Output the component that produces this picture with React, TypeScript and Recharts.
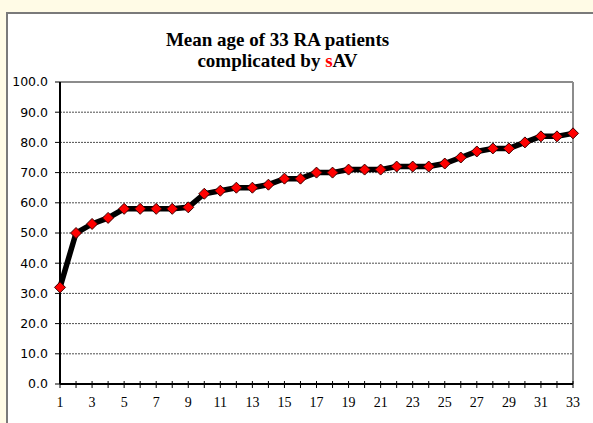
import { LineChart, Line, XAxis, YAxis, CartesianGrid, ReferenceLine } from "recharts"

const patients = [1, 2, 3, 4, 5, 6, 7, 8, 9, 10, 11, 12, 13, 14, 15, 16, 17, 18, 19, 20, 21, 22, 23, 24, 25, 26, 27, 28, 29, 30, 31, 32, 33]
const meanAge = [32, 50, 53, 55, 58, 58, 58, 58, 58.5, 63, 64, 65, 65, 66, 68, 68, 70, 70, 71, 71, 71, 72, 72, 72, 73, 75, 77, 78, 78, 80, 82, 82, 83]
const yTicks = [0, 10, 20, 30, 40, 50, 60, 70, 80, 90, 100]

const data = patients.map((p, i) => ({ patient: p, age: meanAge[i] }))

function XTick(props: any) {
  const { x, y, payload } = props
  return (
    <g>
      <line x1={x} x2={x} y1={y - 3} y2={y + 4} stroke="#000" strokeWidth={1} />
      {payload.value % 2 === 1 && (
        <text x={x} y={y + 23} textAnchor="middle" fontFamily="Liberation Serif" fontSize={14} fill="#000">
          {payload.value}
        </text>
      )}
    </g>
  )
}

function Diamond(props: any) {
  const { cx, cy } = props
  if (cx == null || cy == null) return null
  const r = 5.5
  return (
    <polygon
      points={`${cx},${cy - r} ${cx + r},${cy} ${cx},${cy + r} ${cx - r},${cy}`}
      fill="#ff0000"
      stroke="#3a0000"
      strokeWidth={1}
    />
  )
}

export default function App() {
  return (
    <div style={{ position: "absolute", left: 0, top: 0, width: 593, height: 423, background: "#fffbe6", overflow: "hidden" }}>
      <div
        style={{
          position: "absolute",
          left: 6,
          top: 12,
          width: 600,
          height: 420,
          background: "#fff",
          borderLeft: "2px solid #7a7a7a",
          borderTop: "2px solid #7a7a7a",
        }}
      />
      <div
        style={{
          position: "absolute",
          left: 0,
          width: 555,
          top: 29,
          textAlign: "center",
          fontFamily: "Liberation Serif",
          fontWeight: "bold",
          fontSize: 19,
          lineHeight: "21px",
          color: "#000",
        }}
      >
        <div>Mean age of 33 RA patients</div>
        <div>
          complicated by <span style={{ color: "#ff0000" }}>s</span>AV
        </div>
      </div>
      <div style={{ position: "absolute", left: 0, top: 0 }}>
        <LineChart width={593} height={423} data={data} margin={{ top: 82, right: 20, bottom: 0, left: 0 }}>
          <CartesianGrid vertical={false} stroke="#222" strokeDasharray="2 1" strokeWidth={0.8} />
          <ReferenceLine y={100} stroke="#8c8c8c" strokeWidth={2} />
          <ReferenceLine x={33} stroke="#8c8c8c" strokeWidth={2} />
          <XAxis
            dataKey="patient"
            type="number"
            domain={[1, 33]}
            ticks={patients}
            interval={0}
            height={39}
            tickSize={0}
            tickMargin={0}
            tickLine={false}
            axisLine={{ stroke: "#000", strokeWidth: 2 }}
            tick={<XTick />}
          />
          <YAxis
            domain={[0, 100]}
            ticks={yTicks}
            width={60}
            interval={0}
            tickSize={5}
            tickMargin={7}
            tickFormatter={(v: number) => v.toFixed(1)}
            tick={{ fontFamily: "DejaVu Sans", fontSize: 12.5, fill: "#000" }}
            tickLine={{ stroke: "#000", strokeWidth: 1 }}
            axisLine={{ stroke: "#000", strokeWidth: 2 }}
          />
          <Line
            type="linear"
            dataKey="age"
            stroke="#000"
            strokeWidth={5.5}
            dot={<Diamond />}
            activeDot={false}
            isAnimationActive={false}
          />
        </LineChart>
      </div>
    </div>
  )
}
